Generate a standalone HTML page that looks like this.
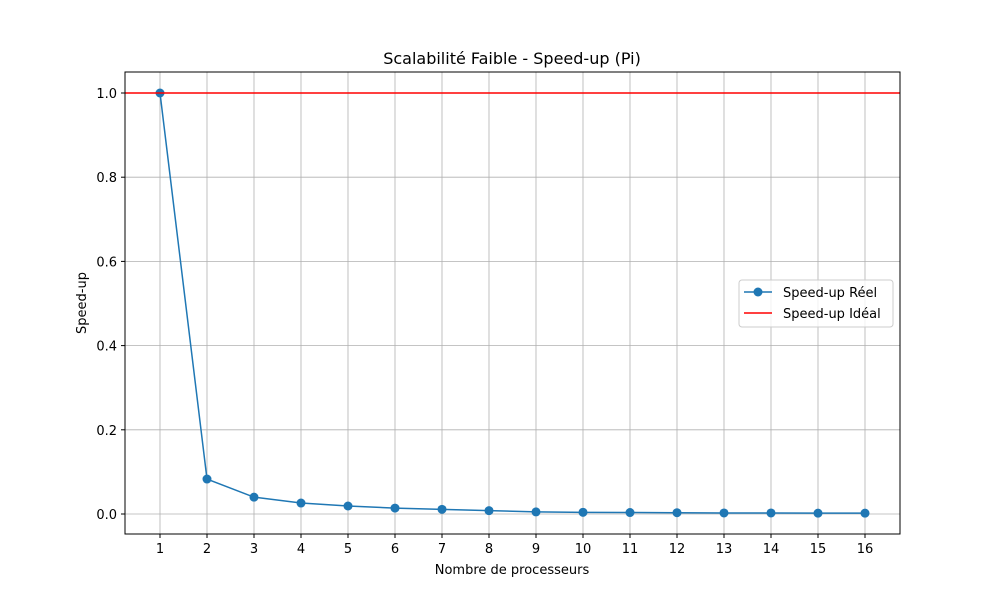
<!DOCTYPE html>
<html><head><meta charset="utf-8"><style>body{margin:0;background:#fff}svg text{font-family:"DejaVu Sans","Liberation Sans",sans-serif;fill:#000}</style></head>
<body>
<svg id="chart" width="1000" height="600" xmlns="http://www.w3.org/2000/svg">
<rect width="1000" height="600" fill="#fff"/>
<g id="grid"></g>
<g id="marks"></g>
<rect x="125" y="72" width="775" height="462" fill="none" stroke="#000" stroke-width="1"/>
<g id="ticks"></g>
<text x="512" y="64" font-size="16" text-anchor="middle">Scalabilité Faible - Speed-up (Pi)</text>
<text x="512" y="574" font-size="13" text-anchor="middle">Nombre de processeurs</text>
<text transform="translate(86,303) rotate(-90)" font-size="13" text-anchor="middle">Speed-up</text>
<g>
<rect x="739" y="280" width="154" height="47" rx="3" fill="#fff" fill-opacity="0.8" stroke="#ccc"/>
<g><line x1="744" y1="292" x2="772" y2="292" stroke="#1f77b4" stroke-width="1.5"/><circle cx="758" cy="292" r="4.5" fill="#1f77b4"/><text x="783" y="297" font-size="13">Speed-up Réel</text></g>
<g><line x1="744" y1="313" x2="772" y2="313" stroke="red" stroke-width="1.5"/><text x="783" y="318" font-size="13">Speed-up Idéal</text></g>
</g>
</svg>
<script>
const procs=[1,2,3,4,5,6,7,8,9,10,11,12,13,14,15,16];
const speedup=[1,0.083,0.040,0.026,0.019,0.014,0.011,0.008,0.005,0.004,0.0035,0.003,0.0025,0.0025,0.002,0.002];
const ideal=1.0;
const yTicks=[0,0.2,0.4,0.6,0.8,1.0];
const NS="http://www.w3.org/2000/svg";
const xs=v=>160+(v-1)*47;
const ys=v=>514-v*421;
function mk(tag,attrs,parent,text){const e=document.createElementNS(NS,tag);for(const k in attrs)e.setAttribute(k,attrs[k]);if(text!==undefined)e.textContent=text;parent.appendChild(e);return e;}
const grid=document.getElementById('grid'),marks=document.getElementById('marks'),ticks=document.getElementById('ticks');
procs.forEach(p=>{
 const g=mk('line',{x1:xs(p),x2:xs(p),y1:72,y2:534,stroke:'#b0b0b0','stroke-width':0.8},grid);
 
 
 const t=mk('line',{x1:xs(p),x2:xs(p),y1:534,y2:538,stroke:'#000'},ticks);
 
 
 const l=mk('text',{x:xs(p),y:553,'font-size':13,'text-anchor':'middle'},ticks,String(p));
 
 
});
yTicks.forEach(v=>{
 const g=mk('line',{x1:125,x2:900,y1:ys(v),y2:ys(v),stroke:'#b0b0b0','stroke-width':0.8},grid);
 
 
 const t=mk('line',{x1:121,x2:125,y1:ys(v),y2:ys(v),stroke:'#000'},ticks);
 
 
 const l=mk('text',{x:117,y:ys(v)+5,'font-size':13,'text-anchor':'end'},ticks,v.toFixed(1));
 
 
});
const pl=mk('polyline',{points:procs.map((p,i)=>xs(p)+','+ys(speedup[i])).join(' '),fill:'none',stroke:'#1f77b4','stroke-width':1.5},marks);


procs.forEach((p,i)=>{
 const c=mk('circle',{cx:xs(p),cy:ys(speedup[i]),r:4.5,fill:'#1f77b4'},marks);
 
 
});
const il=mk('line',{x1:125,x2:900,y1:ys(ideal),y2:ys(ideal),stroke:'red','stroke-width':1.5},marks);


</script>
</body></html>
